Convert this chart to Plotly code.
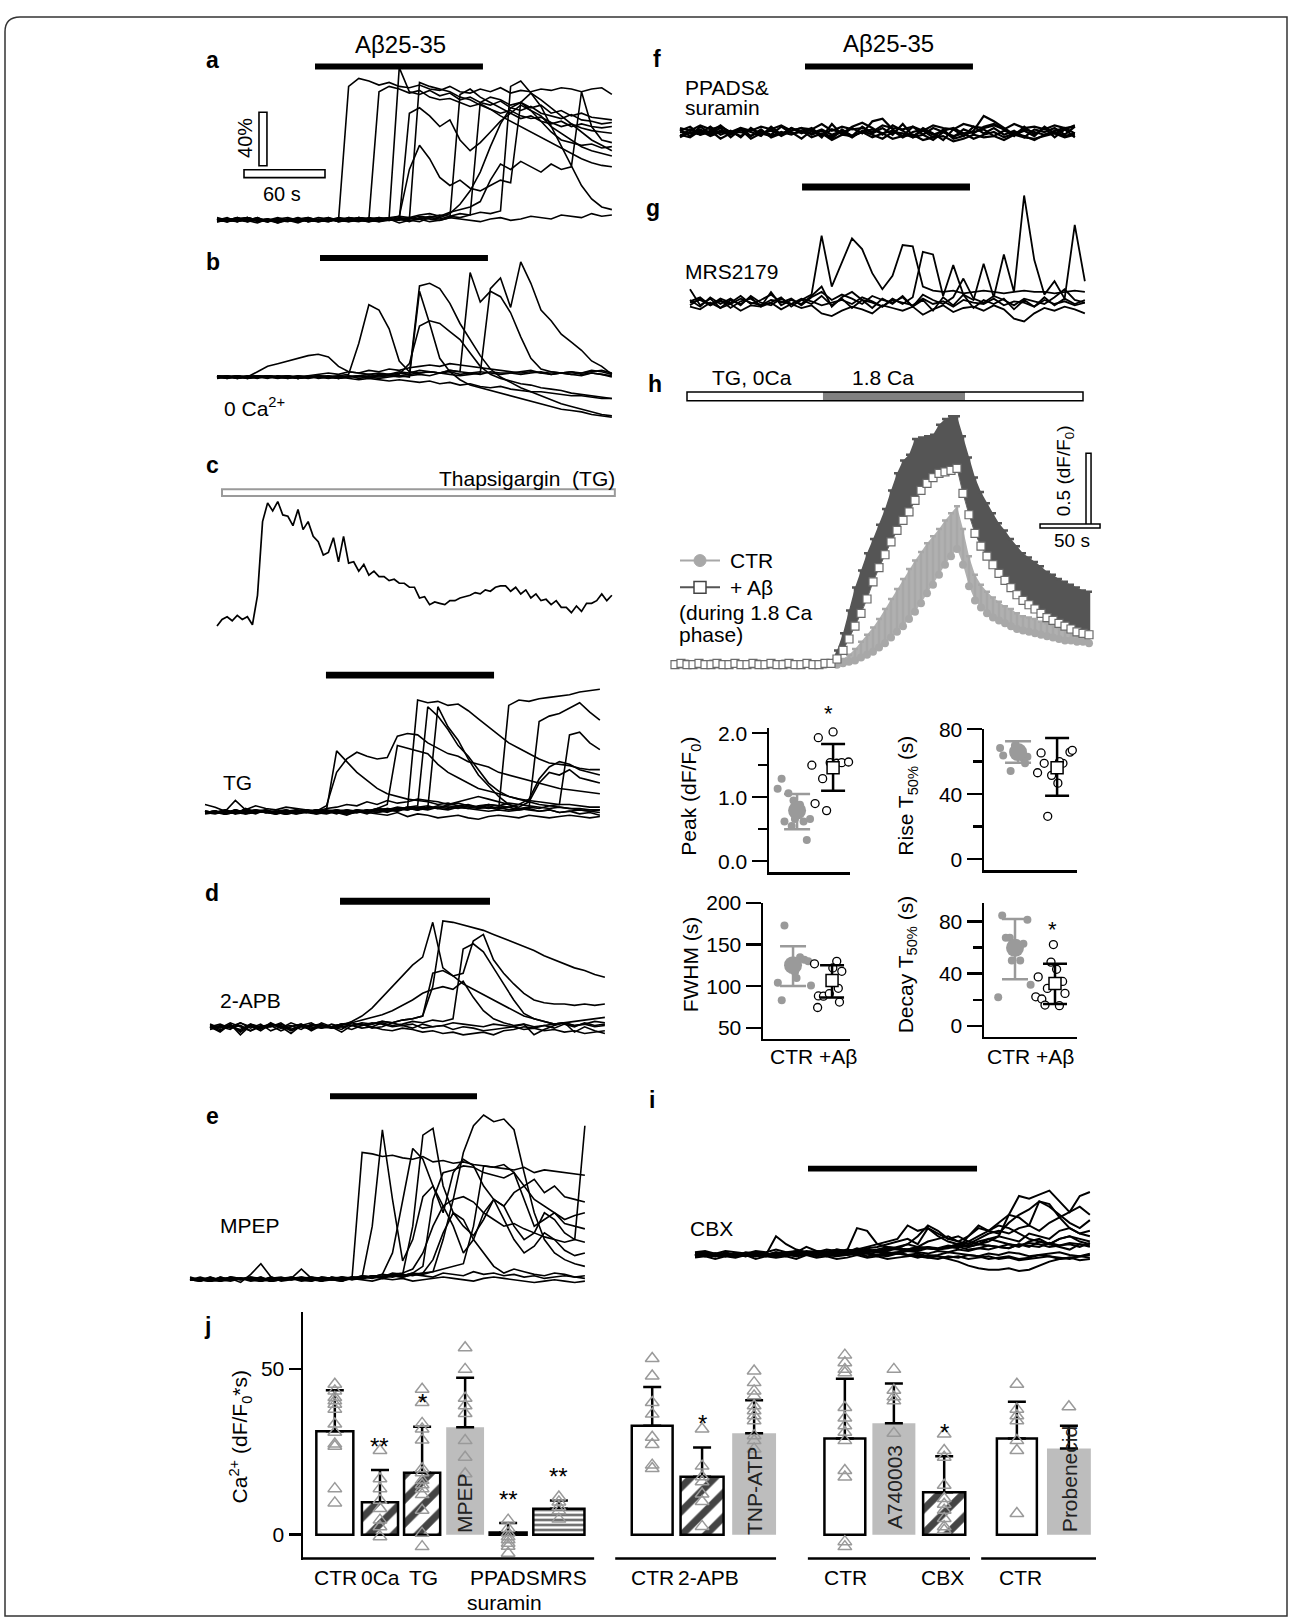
import plotly.graph_objects as go

W, H = 1290, 1620
FONT = "Liberation Sans, Arial, Helvetica, sans-serif"

# ======================= DATA =======================
# shared time grid (s) for the Ca2+ trace panels
T_GRID = [0, 7.5, 15, 22.5, 30, 37.5, 45, 52.5, 60, 67.5, 75, 82.5, 90, 97.5, 105, 112.5, 120, 127.5, 135, 142.5,
          150, 157.5, 165, 172.5, 180, 187.5, 195, 202.5, 210, 217.5, 225, 232.5, 240, 247.5, 255, 262.5, 270, 277.5, 285, 292.5]

# panel a (dF/F, %)
A_TRACES = [
    [1,-1,2,0,-2,1,0,-1,2,-1, 0,1,0,100,106,104,101,103,100,99, 101,98,97,100,96,95,98,96,99,95, 97,96,98,97,99,98,96,98,99,94],
    [0,1,-1,2,0,-1,1,0,-2,1, 0,-1,1,0,2,1,96,100,98,95, 97,92,90,91,88,85,87,83,80,82, 78,76,77,73,70,72,69,67,66,65],
    [-1,0,2,-1,1,0,-2,1,0,1, -1,0,2,1,0,-1,1,2,114,96, 94,97,93,95,90,92,88,86,89,84, 82,85,80,78,76,79,75,74,72,73],
    [0,-1,1,0,2,-1,0,1,-1,0, 2,1,0,-1,1,0,2,1,0,80, 84,78,70,75,60,52,58,66,74,80, 86,82,78,70,65,60,55,52,50,48],
    [2,0,-1,1,0,1,-2,0,1,0, -1,1,0,2,1,0,-1,1,0,1, 103,100,98,96,92,90,86,83,78,74, 70,66,62,58,54,50,46,43,41,40],
    [0,1,0,-1,1,0,2,0,-1,1, 0,1,-1,0,2,1,0,1,3,38, 56,46,32,26,30,24,22,26,30,28, 88,95,90,84,78,72,66,60,56,52],
    [1,-1,0,2,0,1,-1,0,1,2, 0,-1,1,0,-1,1,2,0,1,0, -1,2,1,3,2,4,88,92,90,86, 88,84,86,80,82,78,80,77,76,75],
    [-1,1,0,0,2,-1,1,0,1,-1, 0,2,0,1,0,-1,1,0,2,1, 3,2,4,3,5,4,6,5,7,100, 104,95,85,70,55,40,26,16,10,8],
    [0,2,-1,1,0,-1,1,2,0,1, -1,0,1,0,2,1,-1,0,1,2, 1,3,2,5,12,22,36,55,72,84, 88,82,74,66,60,58,56,57,54,55],
    [1,0,2,-1,0,1,-1,1,0,2, 0,1,-1,2,1,0,1,2,3,2, 4,5,3,6,8,10,14,30,42,38, 44,40,36,42,38,40,96,70,60,58],
    [0,-1,1,2,-1,0,1,0,-1,1, 0,2,-1,0,1,-1,0,1,-2,0, 1,-1,0,2,1,0,-1,1,2,0, 1,3,2,1,4,3,2,5,3,4],
    [-1,0,1,2,0,-1,1,0,2,-1, 1,0,1,-1,0,2,1,0,1,-1, 2,1,0,2,94,98,92,88,84,80, 76,78,74,72,74,70,72,70,69,70],
]
A_BAR = [72.6, 197.0]

# panel b
B_TRACES = [
    [0,1,-1,0,4,8,10,12,14,16, 17,15,8,4,3,2,3,2,4,3, 5,4,3,4,2,3,4,3,2,3, 4,5,3,2,3,4,3,5,4,2],
    [1,0,-1,1,0,1,0,-1,1,0, 1,0,1,2,25,54,50,36,12,4, 3,4,3,5,4,3,2,4,3,3, 2,3,4,2,3,2,1,3,2,0],
    [-1,0,1,0,-1,1,0,1,0,-1, 0,1,0,1,-1,0,1,2,1,2, 68,70,66,55,40,28,16,6,0,-4, -8,-11,-14,-17,-20,-22,-24,-26,-28,-29],
    [0,-1,0,1,0,-1,1,0,-1,0, 1,0,-1,0,1,0,-1,0,1,0, 64,40,14,4,-2,-6,-8,-10,-12,-14, -16,-18,-20,-22,-24,-25,-26,-28,-29,-30],
    [0,1,0,-1,1,0,0,1,-1,0, 1,0,-1,1,0,1,0,1,2,10, 38,42,40,34,28,18,8,2,-1,-3, -5,-6,-8,-9,-10,-12,-13,-14,-15,-16],
    [1,0,1,-1,0,1,0,-1,0,1, -1,0,1,0,1,2,1,2,3,2, 3,4,3,5,4,78,56,64,60,48, 30,14,6,4,3,4,2,3,2,1],
    [0,-1,1,0,1,0,-1,0,1,0, 0,1,-1,0,1,0,2,1,0,1, 2,1,3,2,1,2,3,66,74,52, 86,70,50,42,32,26,20,12,8,2],
    [1,0,1,-1,0,1,0,1,-1,0, 0,-1,0,-1,-2,-1,-2,-3,-2,-3, -4,-3,-5,-4,-6,-5,-7,-8,-7,-9, -10,-11,-11,-12,-13,-14,-14,-15,-16,-16],
    [0,1,-1,0,1,0,1,0,-1,1, 2,3,2,4,3,5,4,6,5,7, 8,9,8,10,9,8,7,6,5,4, 3,4,3,4,3,2,3,4,5,3],
]
B_BAR = [76.3, 200.7]

# panel c (thapsigargin alone)
C_TIME = [0, 3.75, 7.5, 11.25, 15, 18.75, 22.5, 26.25, 30, 33.75, 37.5, 41.25, 45, 48.75, 52.5, 56.25, 60, 63.75,
          67.5, 71.25, 75, 78.75, 82.5, 86.25, 90, 93.75, 97.5, 101.25, 105, 108.75, 112.5, 116.25, 120, 123.75,
          127.5, 131.25, 135, 138.75, 142.5, 146.25, 150, 153.75, 157.5, 161.25, 165, 168.75, 172.5, 176.25, 180,
          183.75, 187.5, 191.25, 195, 198.75, 202.5, 206.25, 210, 213.75, 217.5, 221.25, 225, 228.75, 232.5,
          236.25, 240, 243.75, 247.5, 251.25, 255, 258.75, 262.5, 266.25, 270, 273.75, 277.5, 281.25, 285, 288.75, 292.5]
C_TRACE = [-3,2,4,1,5,2,4,-2,20,75, 89,83,90,80,79,72,84,69,75,64, 60,50,52,63,45,64,44,45,38,43,
           35,38,34,34,31,32,29,29,26,26, 18,19,13,15,14,13,16,16,18,19, 20,22,21,24,23,26,27,27,23,26,
           21,24,18,21,16,17,13,16,11,11, 7,12,8,14,14,16,21,16,20]
C_TG_BAR = [3.7, 294.7]

# panel c lower (TG + Abeta)
TG_TRACES = [
    [1,0,2,-1,3,0,1,-1,2,0, 1,0,2,46,38,30,24,18,14,12, 10,9,8,6,7,5,6,4,5,3, 4,2,3,1,2,0,1,-1,0,-2],
    [0,1,-1,2,0,1,0,-1,1,2, 0,1,5,30,40,45,42,40,41,57, 59,58,52,48,44,42,38,36,34,30, 28,26,24,22,20,18,17,16,15,14],
    [1,0,-1,0,2,1,0,-1,1,0, 2,0,1,-1,2,1,0,3,2,4, 3,84,82,83,80,81,76,70,64,58, 52,48,44,40,37,36,35,33,32,32],
    [0,1,0,2,-1,0,1,0,-1,2, 1,0,-1,1,0,2,1,3,2,1, 4,5,79,72,62,50,42,32,22,16, 12,10,8,6,5,4,3,3,2,2],
    [-1,0,1,0,1,2,0,1,0,-1, 1,0,2,1,-1,0,1,2,0,3, 2,4,3,79,64,54,40,28,20,12, 6,3,2,1,2,0,1,2,1,0],
    [0,1,-1,0,2,1,0,1,-1,0, 2,1,0,1,2,0,1,3,6,50, 48,46,44,36,30,26,22,18,16,14, 12,10,9,8,7,6,6,5,4,4],
    [1,0,2,0,-1,1,0,1,2,0, 1,-1,0,2,1,0,1,2,3,2, 4,3,2,4,3,5,4,3,4,2, 80,84,83,85,86,87,88,90,91,92],
    [0,1,-1,1,0,2,1,0,-1,0, 1,2,0,1,0,2,1,0,2,1, 3,2,4,3,2,4,3,2,1,2, 1,2,3,68,72,74,78,82,75,69],
    [1,0,1,-1,0,1,2,0,1,-1, 0,2,1,0,1,0,2,1,3,2, 4,2,3,5,4,3,5,4,3,4, 2,3,4,3,5,6,58,60,52,47],
    [0,-1,1,0,2,0,1,-1,0,1, 0,2,1,0,-1,1,2,0,1,2, 3,2,4,3,5,4,3,5,6,5, 4,6,10,25,34,38,36,32,30,28],
    [1,0,-1,2,0,1,0,1,-1,0, 2,0,1,2,0,1,-1,2,1,3, 2,4,5,3,6,8,10,12,10,8, 6,4,8,22,30,28,32,26,24,22],
    [0,1,-1,0,1,-1,2,0,-1,1, 0,-1,1,0,-2,1,0,-1,-2,0, -3,-1,-2,-4,-3,-2,-4,-5,-3,-2, -3,-4,-2,-3,-4,-3,-2,-3,-4,-3],
    [6,4,1,9,2,5,3,2,4,3, 2,1,3,4,6,5,8,6,9,7, 8,10,9,8,6,7,5,4,6,5, 7,6,5,4,3,4,3,2,1,2],
]
TG_BAR = [89.6, 214.1]

# panel d (2-APB)
D_TRACES = [
    [0,-3,2,-4,1,-2,3,-1,0,2, -3,1,0,-2,3,1,2,4,3,5, 6,8,30,79,78,76,74,72,69,66, 63,60,57,53,50,47,44,42,39,37],
    [1,-2,0,3,-1,2,-3,0,1,-2, 2,0,-1,1,4,8,14,22,30,38, 46,52,78,44,38,32,28,24,20,16, 12,8,6,4,2,3,1,2,0,1],
    [0,2,-1,1,-3,0,2,-1,3,0, -2,1,0,2,1,3,2,4,3,5, 6,8,40,42,38,40,64,69,50,40, 32,25,20,18,17,17,16,17,16,17],
    [-1,1,0,-2,2,0,1,-3,0,2, -1,1,0,2,3,5,7,9,12,16, 20,25,28,30,28,34,22,12,6,3, 1,2,0,1,-1,2,0,3,1,2],
    [1,0,-2,3,0,-1,2,1,-3,0, 1,2,-1,0,1,2,0,3,1,2, 4,3,5,4,6,58,62,56,44,32, 20,10,6,4,2,3,1,2,4,3],
    [0,-4,2,-6,1,-3,2,0,-5,1, -2,3,0,-4,1,2,-1,0,3,1, 2,-1,0,1,-2,0,-1,-3,-2,-1, 0,2,-6,-2,1,3,-4,0,-3,-5],
    [2,-1,3,0,-3,1,0,2,-2,1, 3,-1,0,2,1,-1,0,-2,-3,-1, -2,-4,-3,-5,-4,-6,-5,-4,-6,-3, -2,0,-1,1,2,3,4,5,6,7],
    [-2,0,1,-3,2,-1,0,3,-2,1, 0,-1,2,0,-2,1,3,2,0,1, -1,2,0,1,3,2,1,0,2,1, 0,-2,-1,-3,-2,-4,-3,-5,-4,-3],
]
D_BAR = [96.3, 207.4]

# panel e (MPEP)
E_TRACES = [
    [0,1,-1,2,0,1,-1,0,2,-1, 0,1,0,2,1,0,1,95,94,92, 93,91,90,92,88,89,87,88,86,85, 84,83,82,84,80,82,81,80,79,78],
    [1,0,-1,0,2,1,0,-1,1,0, 2,0,-1,1,0,2,1,2,40,112, 60,14,30,62,70,55,40,20,30,50, 60,45,30,20,25,35,30,22,18,20],
    [0,-1,1,0,2,0,1,-1,0,1, 2,0,1,-1,0,1,2,1,3,2, 5,4,40,108,113,70,50,40,33,45, 60,55,40,30,35,50,45,35,30,28],
    [1,0,2,-1,0,1,0,2,-1,1, 0,1,2,0,1,-1,2,1,3,2, 4,3,5,4,6,30,60,95,115,123, 118,120,112,80,50,30,20,15,12,10],
    [0,1,0,-1,2,1,0,1,-1,0, 1,2,0,1,0,-1,2,1,2,4, 20,60,98,90,70,50,80,90,85,70, 60,55,65,70,60,55,50,45,48,50],
    [2,0,-1,1,0,1,2,0,-1,1, 0,2,1,0,1,2,0,1,3,2, 4,3,5,10,60,80,82,85,84,80, 78,76,80,60,40,45,50,42,40,38],
    [0,1,-1,0,1,0,2,1,-1,0, 1,0,-1,2,1,0,2,1,3,2, 4,5,8,20,40,55,60,62,58,50, 45,40,42,38,35,32,30,28,30,115],
    [1,-1,2,0,1,-2,4,12,2,0, 1,8,1,-1,2,0,1,3,2,1, 3,2,4,3,2,5,4,3,6,4, 5,3,4,2,3,1,2,3,2,1],
    [0,2,0,-1,1,0,1,-1,2,0, 1,0,2,1,0,2,1,3,2,4, 3,2,4,5,15,35,50,45,30,20, 10,5,8,6,4,3,5,4,2,3],
    [1,0,-1,2,0,1,0,-1,1,2, 0,1,0,-1,2,1,0,2,1,3, 2,4,3,5,6,8,10,12,40,85, 84,86,80,70,75,65,70,62,60,58],
    [0,-1,1,0,-1,1,0,2,-1,0, 1,-1,0,1,0,-1,1,0,-1,1, 0,1,-1,0,1,2,1,0,-1,1, 2,1,0,-1,-2,-1,0,-1,-2,-1],
]
E_BAR = [103.7, 212.6]

# panel f (PPADS & suramin)
F_TRACES = [
    [2,-3,4,-1,3,-4,2,0,-3,4, -2,3,-1,2,-4,6,-2,3,-1,8, 10,2,-3,4,-2,3,0,-4,2,-1, 4,6,2,-3,4,-2,3,-4,2,5],
    [-3,2,-1,4,-2,1,-4,3,-2,2, -3,1,3,-2,1,-5,2,-3,4,-1, 3,-2,6,-3,1,-4,2,-5,-3,1, 12,8,3,-2,1,-3,4,-1,2,-4],
    [1,4,-2,0,5,-1,3,-3,1,-2, 4,-1,0,3,-3,2,-1,4,7,3, -2,5,1,-4,3,-1,-6,2,-3,4, -1,3,-2,1,-4,2,0,3,-2,4],
    [-2,-4,1,-3,0,-2,2,-5,-1,-3, 0,-2,1,-4,-1,-6,-2,-3,0,-4, -1,-5,-3,-2,-6,-4,-3,-7,-5,-2, -4,-3,-6,-2,-4,-5,-3,-1,-4,-2],
    [3,1,5,2,4,0,3,1,4,2, 5,1,3,2,6,1,4,2,3,0, 5,3,2,4,1,5,3,2,6,4, 3,5,2,6,3,4,2,5,3,4],
    [0,-1,2,-2,1,0,-3,2,-1,1, -2,3,0,-1,2,-2,1,-3,0,2, -1,1,-4,0,2,-2,1,3,-1,0, 2,-3,1,-1,2,0,-2,1,3,-1],
    [-4,0,-2,1,-5,-1,0,-3,2,-4, -1,0,-5,1,-2,-3,0,-4,1,-2, -5,0,-1,-4,-2,-6,0,-3,-1,-5, -2,0,-4,-1,-3,-6,-2,0,-3,-1],
]
F_BAR = [92.6, 217.0]

# panel g (MRS2179)
G_TRACES = [
    [2,-3,4,-1,3,-2,5,0,-2,3, -1,2,6,50,12,30,48,40,22,10, 20,43,42,12,9,8,9,7,8,9, 8,7,8,9,8,8,7,8,9,8],
    [-2,3,-1,2,-4,1,3,-2,0,4, -3,2,-1,5,-2,3,-4,2,0,-3, 3,-1,4,38,36,5,28,6,2,29, 4,36,8,80,32,6,16,3,58,16],
    [10,-2,3,-4,2,-1,4,-3,8,-2, 2,-1,5,12,-3,4,8,2,-4,3, -1,5,-3,2,-6,4,-2,6,-4,2, -1,3,-5,2,-3,4,-2,3,-1,2],
    [-3,-5,0,-4,-1,-6,-2,-3,0,-5, -1,-4,-2,-8,-10,-6,-3,-5,-8,-2, -4,-6,-3,-9,-5,-2,-7,-4,-3,-6, -2,-5,-12,-14,-8,-4,-6,-3,-5,-8],
    [1,4,-2,3,0,5,-1,2,6,0, 3,-2,4,8,2,6,3,-1,5,2, 0,4,-3,6,2,-1,4,18,3,0, 5,2,-2,3,1,-1,4,10,2,0],
    [0,2,-2,1,-1,3,0,-2,2,1, -1,3,1,-2,0,2,-1,4,1,-3, 2,0,-2,3,-1,1,-3,2,0,-1, 3,-2,1,0,-3,2,-1,1,-2,0],
]
G_BAR = [83.0, 207.4]

# panel i (CBX)
I_TRACES = [
    [1,0,-1,2,0,1,-1,0,14,8, 4,2,3,2,4,3,20,18,8,6, 5,4,6,5,4,6,8,10,14,18, 22,20,16,12,10,8,12,14,10,8],
    [0,1,0,-1,1,0,2,1,0,1, 2,6,3,2,1,3,4,6,8,10, 12,22,18,20,14,10,8,6,8,10, 14,30,44,42,45,48,40,32,44,47],
    [-1,0,1,0,-1,1,0,1,-1,0, 1,2,1,3,2,4,3,5,6,8, 10,12,8,20,16,12,10,14,22,18, 16,24,30,34,40,36,30,24,20,26],
    [1,-1,0,1,0,-1,1,0,2,0, 1,0,2,1,3,2,1,3,2,4, 6,8,6,10,12,14,10,8,12,16, 18,16,20,22,18,24,28,32,36,30],
    [0,1,-1,0,1,0,-1,1,0,2, 0,1,-1,0,1,2,0,1,-1,0, 1,0,-1,-2,-1,-3,-5,-8,-10,-11, -11,-10,-12,-11,-8,-5,-3,-2,-1,0],
    [-1,0,0,1,-1,0,1,0,-1,1, 0,1,2,1,3,2,4,3,2,4, 5,4,6,5,4,6,8,7,10,12, 14,12,10,16,14,12,18,20,16,18],
    [0,-1,1,0,1,-1,0,1,0,-1, 1,0,1,-1,0,1,2,1,0,2, 1,3,2,1,3,2,4,3,5,4, 6,5,8,6,10,8,12,14,12,10],
    [1,0,1,-1,0,1,0,-1,1,0, -1,1,0,2,1,0,1,-1,0,1, 2,0,1,-1,0,2,1,0,-1,1, 0,2,1,-1,0,1,2,0,-1,1],
    [0,0,-1,1,0,-1,1,0,0,1, -1,0,1,0,-1,0,1,2,0,-1, 1,0,-2,0,-1,-2,-1,-3,-2,-1, -3,-2,-4,-3,-2,-1,-3,-2,-4,-3],
    [-1,1,0,-1,0,1,-1,0,1,0, 1,3,2,1,2,3,1,4,2,3, 5,8,14,22,18,12,14,10,8,12, 10,8,6,10,12,8,6,4,8,6],
    [0,1,-1,0,1,0,1,-1,0,1, 0,1,2,1,0,2,1,3,2,1, 2,4,3,5,4,6,5,14,20,18, 24,30,28,22,40,38,28,20,16,14],
    [1,2,0,1,-1,2,1,0,2,1, 3,2,1,2,4,3,2,4,3,5, 4,3,5,6,4,5,7,6,8,7, 6,8,7,9,8,6,7,9,8,7],
    [-2,-1,-3,-1,-2,0,-3,-1,-2,-1, -3,0,-2,-1,-3,-2,0,-2,-1,-3, -2,-1,0,-2,-3,-1,-2,0,-1,-3, -2,-1,-3,-2,0,-1,-2,-3,-1,-2],
    [2,3,1,3,2,1,3,2,4,2, 3,1,2,4,3,2,5,3,4,6, 5,3,4,6,5,7,6,4,5,7, 6,5,8,7,6,9,7,8,6,9],
]
I_BAR = [83.7, 208.9]

# panel h (mean + error, dF/F0)
H_T = [0,5,10,15,20,25,30,35,40,45,50,55,60,65,70,75,80,85,90,95,100,105,110,115,120,125,130,135,140,145,
       150,155,160,165,170,175,180,185,190,195,200,205,210,215,220,225,230,235,240,245,250,255,260,265,270,
       275,280,285,290,295,300,305,310,315,320,325,330,335,340,345]
H_AB_MEAN = [0.0,0.01,0.0,0.0,0.01,0.0,0.0,0.01,0.0,0.0,0.01,0.0,0.0,0.01,0.0,0.0,0.01,0.0,0.0,0.01,0.0,0.0,0.01,0.0,0.0,0.01,0.01,
             0.04,0.10,0.18,0.27,0.36,0.46,0.58,0.68,0.77,0.86,0.94,1.01,1.07,1.15,1.22,1.27,1.31,1.34,1.35,1.36,1.375,
             1.20,1.05,0.92,0.83,0.76,0.70,0.64,0.59,0.54,0.49,0.45,0.42,0.39,0.36,0.33,0.31,0.29,0.27,0.25,0.23,0.22,0.21]
H_AB_ERR = [0.01,0.01,0.01,0.01,0.01,0.01,0.01,0.01,0.01,0.01,0.01,0.01,0.01,0.01,0.01,0.01,0.01,0.01,0.01,0.01,0.01,0.01,0.01,0.01,0.01,0.01,0.01,
            0.06,0.12,0.20,0.27,0.30,0.32,0.30,0.30,0.32,0.36,0.40,0.42,0.40,0.43,0.37,0.33,0.30,0.34,0.37,0.38,0.365,
            0.40,0.40,0.39,0.38,0.37,0.36,0.35,0.35,0.34,0.34,0.33,0.33,0.33,0.33,0.32,0.32,0.31,0.31,0.31,0.31,0.30,0.30]
H_CTR_MEAN = [0.0,0.0,0.01,0.0,0.0,0.0,0.01,0.0,0.0,0.0,0.01,0.0,0.0,0.0,0.01,0.0,0.0,0.0,0.01,0.0,0.0,0.0,0.01,0.0,0.0,0.0,0.01,0.0,
              0.01,0.02,0.03,0.05,0.07,0.09,0.12,0.15,0.19,0.23,0.27,0.32,0.37,0.43,0.50,0.56,0.63,0.70,0.76,0.81,
              0.70,0.55,0.45,0.40,0.36,0.33,0.31,0.29,0.27,0.25,0.24,0.23,0.22,0.21,0.20,0.19,0.18,0.17,0.17,0.16,0.16,0.15]
H_CTR_ERR = [0.01,0.01,0.01,0.01,0.01,0.01,0.01,0.01,0.01,0.01,0.01,0.01,0.01,0.01,0.01,0.01,0.01,0.01,0.01,0.01,0.01,0.01,0.01,0.01,0.01,0.01,0.01,0.01,
             0.03,0.05,0.08,0.11,0.14,0.17,0.20,0.24,0.27,0.30,0.33,0.35,0.36,0.36,0.35,0.34,0.32,0.31,0.30,0.30,
             0.25,0.21,0.18,0.16,0.15,0.14,0.13,0.12,0.12,0.11,0.10,0.10,0.10,0.09,0.09,0.09,0.08,0.08,0.08,0.08,0.08,0.08]
H_PHASES = [10, 123.3, 241.7, 340]

# panel h small plots: individual cells, jitter, and mean / error limits (CTR, +Abeta)
PEAK_CTR = [1.29,1.13,1.06,0.62,0.66,0.62,0.66,0.33,0.55,0.88,0.95]
PEAK_CTR_JIT = [-0.43,-0.54,-0.24,-0.35,-0.06,0.18,0.36,0.27,-0.15,0.08,-0.1]
PEAK_AB = [1.93,2.02,1.50,1.29,1.54,1.53,1.54,1.55,0.90,0.79]
PEAK_AB_JIT = [-0.41,0.0,-0.59,-0.29,-0.08,0.1,0.24,0.43,-0.5,-0.18]
PEAK_MEAN = [0.79, 1.46]; PEAK_LO = [0.50, 1.10]; PEAK_HI = [1.05, 1.83]

RISE_CTR = [80.7,68.4,63.8,54.3,63,59,66,70,62]
RISE_CTR_JIT = [-0.32,-0.46,-0.38,-0.19,0.24,0.18,0.05,-0.08,0.14]
RISE_AB = [65.4,59,53.2,51.6,59,65.9,67,46.8,26.4,60]
RISE_AB_JIT = [-0.41,-0.33,-0.5,-0.14,0.15,0.33,0.39,0.02,-0.24,0.06]
RISE_MEAN = [65.9, 56.3]; RISE_LO = [59.3, 39.0]; RISE_HI = [72.6, 74.6]

FWHM_CTR = [173.2,104.3,83.1,135,132,130,101,117,128,110]
FWHM_CTR_JIT = [-0.22,-0.39,-0.29,0.18,0.29,0.39,0.46,0.05,-0.08,0.09]
FWHM_AB = [127,130,118,88.3,88,91,97.5,74.4,81,122]
FWHM_AB_JIT = [-0.45,0.12,0.25,-0.35,-0.22,-0.07,0.16,-0.37,0.19,0.02]
FWHM_MEAN = [125.4, 107]; FWHM_LO = [100.2, 86.4]; FWHM_HI = [148, 125.4]

DECAY_CTR = [96.4,84.5,81.3,67.4,67.4,62.9,50.2,50.2,31.5,22,58]
DECAY_CTR_JIT = [0.07,-0.32,0.31,-0.23,-0.13,0.21,0.13,-0.08,0.39,-0.42,0]
DECAY_AB = [62.3,48.9,43.4,37.6,34.1,28.8,22.4,20.7,16.1,15.6,25]
DECAY_AB_JIT = [-0.04,-0.1,0.04,-0.42,0.19,-0.19,-0.48,-0.33,-0.25,0.11,0.25]
DECAY_MEAN = [59.8, 32.6]; DECAY_LO = [35.8, 16.9]; DECAY_HI = [81.8, 47.7]

# panel j: integrated Ca2+ (dF/F0*s)
J_CATS = ["CTR", "0Ca", "TG", "MPEP", "PPADS suramin", "MRS", "CTR", "2-APB", "TNP-ATP",
          "CTR", "A740003", "CBX", "CTR", "Probenecid"]
J_MEAN = [31.2, 9.8, 18.7, 32.4, 0.7, 7.8, 32.9, 17.5, 30.6, 29.0, 33.6, 12.8, 29.0, 26.0]
J_ERR = [12.4, 9.7, 13.9, 15.0, 2.8, 2.5, 11.7, 8.8, 10.0, 18.1, 12.0, 10.9, 11.1, 6.9]
J_PTS = [
    [45.4,43.4,41.4,40.4,39.4,37.9,33.4,30.9,27.4,26.7,13.9,9.6],
    [25.4,16.9,13.9,10.4,7.9,4.4,2.4,-0.6],
    [43.9,39.9,33.6,31.9,28.6,19.9,18.7,16.4,15.1,13.9,12.1,7.4,0.4,-3.6],
    [56.4,49.9,41.2,38.9,36.6,28.4,23.4,18.4],
    [4.4,1.9,-0.6,-2.6,-5.6,-1.5,0.5,-3.5],
    [11.4,9.9,8.4,7.2,4.7],
    [53.2,47.9,39.9,36.4,29.4,27.2,21,20],
    [31.9,20.7,17.5,16,12.3,10,2.5],
    [49.4,45.9,43.4,41.9,38.9,37.4,35.9,34.4,29.9,28.4,25.9],
    [54.2,51.9,49.9,48.9,38.4,35.2,32.9,30.9,28.4,19.4,17.4,-2.1,-3.6],
    [49.9,43.6,41.6,40.4,30.6],
    [30.4,25.4,23.4,14.9,10.9,9.2,7.4,4.9,2.4,1.4],
    [45.4,37.9,35.9,34.4,28.4,25.4,6.4],
    [38.6],
]
J_SIG = ["", "**", "*", "", "**", "**", "", "*", "", "", "", "*", "", ""]

# ======================= LAYOUT HELPERS =======================
# bar positions / widths of panel j (layout, in axis units)
J_X = [0.74, 1.79, 2.77, 3.77, 4.77, 5.95, 8.12, 9.28, 10.49, 12.60, 13.74, 14.91, 16.60, 17.81]
J_W = [0.86, 0.84, 0.84, 0.88, 0.86, 1.19, 0.95, 1.0, 1.02, 0.95, 1.0, 0.98, 0.93, 1.02]
J_STYLE = ["open", "hatch", "hatch", "gray", "open", "stripe", "open", "hatch", "gray",
           "open", "gray", "hatch", "open", "gray"]

fig = go.Figure()
AX = {}
SHAPES = []
ANN = []
_n = [0]


def px_x(p):
    return p / W


def px_y(p):
    return 1 - p / H


def new_axes(bx0, bx1, by0, by1, xr, yr):
    _n[0] += 1
    s = '' if _n[0] == 1 else str(_n[0])
    AX['xaxis' + s] = dict(domain=[bx0 / W, bx1 / W], range=xr, anchor='y' + s, visible=False,
                           fixedrange=True, showgrid=False, zeroline=False)
    AX['yaxis' + s] = dict(domain=[1 - by1 / H, 1 - by0 / H], range=yr, anchor='x' + s, visible=False,
                           fixedrange=True, showgrid=False, zeroline=False)
    return 'x' + s, 'y' + s, 'xaxis' + s, 'yaxis' + s


def ann(px, py, text, size=21, xanchor='center', yanchor='middle', bold=False, angle=0, color='black'):
    if bold:
        text = '<b>' + text + '</b>'
    ANN.append(dict(x=px_x(px), y=px_y(py), xref='paper', yref='paper', text=text, showarrow=False,
                    xanchor=xanchor, yanchor=yanchor, textangle=angle,
                    font=dict(size=size, color=color, family=FONT)))


def stim_bar(xref, t, py0, py1, fill='black', line='black', lw=0):
    SHAPES.append(dict(type='rect', xref=xref, yref='paper', x0=t[0], x1=t[1],
                       y0=px_y(py1), y1=px_y(py0), fillcolor=fill, line=dict(color=line, width=lw), layer='above'))


def trace_panel(x0, base, box, traces, times, sx=1.35, sy=1.35, lw=1.6):
    bx0, bx1, by0, by1 = box
    xr = [(bx0 - x0) / sx, (bx1 - x0) / sx]
    yr = [(base - by1) / sy, (base - by0) / sy]
    xref, yref, _, _ = new_axes(bx0, bx1, by0, by1, xr, yr)
    for tr in traces:
        fig.add_trace(go.Scatter(x=times, y=tr, mode='lines', line=dict(color='black', width=lw),
                                 xaxis=xref, yaxis=yref, hoverinfo='skip', showlegend=False))
    return xref, yref


# ======================= TRACE PANELS =======================
ax_a = trace_panel(217, 210, (212, 620, 48, 222), A_TRACES, T_GRID)
stim_bar(ax_a[0], A_BAR, 52, 58)
# scale bars (60 s, 40 %)
SHAPES.append(dict(type='rect', xref=ax_a[0], yref=ax_a[1], x0=31.1, x1=37.0, y0=40.7, y1=80.7,
                   fillcolor='white', line=dict(color='black', width=1.6)))
SHAPES.append(dict(type='rect', xref=ax_a[0], yref=ax_a[1], x0=20, x1=80, y0=31.9, y1=37.8,
                   fillcolor='white', line=dict(color='black', width=1.6)))

ax_b = trace_panel(217, 368, (212, 622, 240, 415), B_TRACES, T_GRID)
stim_bar(ax_b[0], B_BAR, 245, 251)

ax_c = trace_panel(217, 615, (212, 625, 476, 630), [C_TRACE], C_TIME, lw=1.7)
stim_bar(ax_c[0], C_TG_BAR, 481, 488, fill='white', line='#9a9a9a', lw=2)

ax_tg = trace_panel(205, 807, (200, 612, 660, 822), TG_TRACES, T_GRID)
stim_bar(ax_tg[0], TG_BAR, 665, 672)

ax_d = trace_panel(210, 1023, (205, 612, 888, 1035), D_TRACES, T_GRID)
stim_bar(ax_d[0], D_BAR, 893, 900)

ax_e = trace_panel(190, 1278, (185, 600, 1085, 1292), E_TRACES, T_GRID)
stim_bar(ax_e[0], E_BAR, 1090, 1096)

ax_f = trace_panel(680, 121, (675, 1090, 48, 135), F_TRACES, T_GRID, lw=2.2)
stim_bar(ax_f[0], F_BAR, 52, 58)

ax_g = trace_panel(690, 293, (685, 1100, 168, 315), G_TRACES, T_GRID, lw=1.8)
stim_bar(ax_g[0], G_BAR, 173, 180)

ax_i = trace_panel(695, 1253, (690, 1100, 1158, 1275), I_TRACES, T_GRID, lw=2.0)
stim_bar(ax_i[0], I_BAR, 1163, 1169)

# ======================= PANEL h =======================
hx, hy, _, _ = new_axes(670, 1102, 378, 668, [(670 - 675) / 1.2, (1102 - 675) / 1.2],
                        [(658 - 668) / 144, (658 - 378) / 144])
ab_up = [m + e for m, e in zip(H_AB_MEAN, H_AB_ERR)]
ctr_up = [m + e for m, e in zip(H_CTR_MEAN, H_CTR_ERR)]
NZ = [0] * len(H_T)
fig.add_trace(go.Scatter(x=H_T + H_T[::-1], y=ab_up + H_AB_MEAN[::-1], fill='toself', fillcolor='#555555',
                         line=dict(width=0), mode='lines', xaxis=hx, yaxis=hy, hoverinfo='skip', showlegend=False))
fig.add_trace(go.Scatter(x=H_T, y=H_AB_MEAN, mode='markers', marker=dict(size=2, color='#555555'),
                         error_y=dict(type='data', symmetric=False, array=H_AB_ERR, arrayminus=NZ,
                                      color='#555555', thickness=2.5, width=3),
                         xaxis=hx, yaxis=hy, hoverinfo='skip', showlegend=False))
fig.add_trace(go.Scatter(x=H_T + H_T[::-1], y=ctr_up + H_CTR_MEAN[::-1], fill='toself', fillcolor='#b0b0b0',
                         line=dict(width=0), mode='lines', xaxis=hx, yaxis=hy, hoverinfo='skip', showlegend=False))
fig.add_trace(go.Scatter(x=H_T, y=H_CTR_MEAN, mode='markers', marker=dict(size=8, color='#a8a8a8'),
                         error_y=dict(type='data', symmetric=False, array=H_CTR_ERR, arrayminus=NZ,
                                      color='#a8a8a8', thickness=2.5, width=3),
                         xaxis=hx, yaxis=hy, hoverinfo='skip', showlegend=False))
fig.add_trace(go.Scatter(x=H_T, y=H_AB_MEAN, mode='lines+markers', line=dict(color='#666666', width=1),
                         marker=dict(symbol='square', size=8, color='white', line=dict(color='#6a6a6a', width=1.2)),
                         xaxis=hx, yaxis=hy, hoverinfo='skip', showlegend=False))
# solution bar
for k, fill in enumerate(['white', '#808080', 'white']):
    SHAPES.append(dict(type='rect', xref=hx, yref='paper', x0=H_PHASES[k], x1=H_PHASES[k + 1],
                       y0=px_y(392), y1=px_y(383), fillcolor=fill, line=dict(width=0), layer='above'))
SHAPES.append(dict(type='rect', xref=hx, yref='paper', x0=H_PHASES[0], x1=H_PHASES[3],
                   y0=px_y(392), y1=px_y(383), fillcolor='rgba(0,0,0,0)', line=dict(color='black', width=1.5),
                   layer='above'))
# scale bars 50 s / 0.5 dF/F0
SHAPES.append(dict(type='rect', xref=hx, yref=hy, x0=342.5, x1=346.7, y0=0.98, y1=1.48,
                   fillcolor='white', line=dict(color='black', width=1.5)))
SHAPES.append(dict(type='rect', xref=hx, yref=hy, x0=304.2, x1=354.2, y0=0.958, y1=0.986,
                   fillcolor='white', line=dict(color='black', width=1.5)))
# legend glyphs
SHAPES.append(dict(type='line', xref='paper', yref='paper', x0=px_x(680), x1=px_x(720), y0=px_y(553), y1=px_y(553),
                   line=dict(color='#a8a8a8', width=2)))
SHAPES.append(dict(type='circle', xref='paper', yref='paper', x0=px_x(694), x1=px_x(706), y0=px_y(559), y1=px_y(547),
                   fillcolor='#a8a8a8', line=dict(color='#a8a8a8', width=1)))
SHAPES.append(dict(type='line', xref='paper', yref='paper', x0=px_x(680), x1=px_x(720), y0=px_y(580), y1=px_y(580),
                   line=dict(color='#555555', width=2)))
SHAPES.append(dict(type='rect', xref='paper', yref='paper', x0=px_x(694), x1=px_x(706), y0=px_y(586), y1=px_y(574),
                   fillcolor='white', line=dict(color='#444444', width=1.5)))


# ======================= SMALL SCATTER PLOTS =======================
def small_plot(box, xr, yr, tickvals, ticktext, minor, ctr, cjit, ab, ajit, mean, lo, hi):
    xref, yref, xn, yn = new_axes(*box, xr, yr)
    AX[xn].update(visible=True, showline=True, linewidth=2.5, linecolor='black', ticks='',
                  showticklabels=False)
    AX[yn].update(visible=True, showline=True, linewidth=2.5, linecolor='black', ticks='outside',
                  ticklen=15, tickwidth=2.5, tickcolor='black', tickmode='array', tickvals=tickvals,
                  ticktext=ticktext, tickfont=dict(size=21, family=FONT, color='black'))
    if minor:
        AX[yn]['minor'] = dict(tickmode='array', tickvals=minor, ticks='outside', ticklen=9,
                               tickwidth=2.5, tickcolor='black', showgrid=False)
    fig.add_trace(go.Scatter(x=[1 + j for j in cjit], y=ctr, mode='markers',
                             marker=dict(size=8, color='#9a9a9a'), cliponaxis=False,
                             xaxis=xref, yaxis=yref, hoverinfo='skip', showlegend=False))
    fig.add_trace(go.Scatter(x=[2 + j for j in ajit], y=ab, mode='markers',
                             marker=dict(size=8, color='white', line=dict(color='black', width=1.3)),
                             cliponaxis=False, xaxis=xref, yaxis=yref, hoverinfo='skip', showlegend=False))
    fig.add_trace(go.Scatter(x=[1], y=[mean[0]], mode='markers', marker=dict(size=18, color='#9a9a9a'),
                             error_y=dict(type='data', symmetric=False, array=[hi[0] - mean[0]],
                                          arrayminus=[mean[0] - lo[0]], color='#9a9a9a', thickness=2.5, width=13),
                             cliponaxis=False, xaxis=xref, yaxis=yref, hoverinfo='skip', showlegend=False))
    fig.add_trace(go.Scatter(x=[2], y=[mean[1]], mode='markers',
                             marker=dict(size=12, symbol='square', color='white', line=dict(color='black', width=1.5)),
                             error_y=dict(type='data', symmetric=False, array=[hi[1] - mean[1]],
                                          arrayminus=[mean[1] - lo[1]], color='black', thickness=2.5, width=12),
                             cliponaxis=False, xaxis=xref, yaxis=yref, hoverinfo='skip', showlegend=False))


small_plot((769, 850, 722, 867), [0.22, 2.47], [-0.17, 2.078], [0, 1, 2], ['0.0', '1.0', '2.0'], [0.5, 1.5],
           PEAK_CTR, PEAK_CTR_JIT, PEAK_AB, PEAK_AB_JIT, PEAK_MEAN, PEAK_LO, PEAK_HI)
small_plot((984, 1077, 723, 865), [0.128, 2.51], [-6.7, 80], [0, 40, 80], ['0', '40', '80'], [20, 60],
           RISE_CTR, RISE_CTR_JIT, RISE_AB, RISE_AB_JIT, RISE_MEAN, RISE_LO, RISE_HI)
small_plot((763, 850, 898, 1035), [0.23, 2.46], [36.9, 200.4], [50, 100, 150, 200], ['50', '100', '150', '200'], None,
           FWHM_CTR, FWHM_CTR_JIT, FWHM_AB, FWHM_AB_JIT, FWHM_MEAN, FWHM_LO, FWHM_HI)
small_plot((984, 1077, 898, 1033), [0.225, 2.55], [-8.1, 94.2], [0, 40, 80], ['0', '40', '80'], [20, 60],
           DECAY_CTR, DECAY_CTR_JIT, DECAY_AB, DECAY_AB_JIT, DECAY_MEAN, DECAY_LO, DECAY_HI)

# ======================= PANEL j =======================
jx, jy, jxn, jyn = new_axes(303, 1096, 1311, 1561, [0, 18.44], [-7.78, 67.07])
AX[jyn].update(visible=True, showline=True, linewidth=2.5, linecolor='black', ticks='outside', ticklen=12,
               tickwidth=2.5, tickcolor='black', tickmode='array', tickvals=[0, 50], ticktext=['0', '50'],
               tickfont=dict(size=21, family=FONT, color='black'))
GRAY = '#bdbdbd'
colors = [GRAY if s == 'gray' else 'white' for s in J_STYLE]
lcolors = [GRAY if s == 'gray' else 'black' for s in J_STYLE]
lwidths = [0 if s == 'gray' else 2.5 for s in J_STYLE]
pshape = ['/' if s == 'hatch' else ('-' if s == 'stripe' else '') for s in J_STYLE]
pfg = ['#8c8c8c' if s == 'stripe' else 'black' for s in J_STYLE]
psize = [5 if s == 'stripe' else 17 for s in J_STYLE]
psol = [0.4 if s == 'stripe' else 0.42 for s in J_STYLE]
fig.add_trace(go.Bar(x=J_X, y=J_MEAN, width=J_W, textposition='none',
                     marker=dict(color=colors, line=dict(color=lcolors, width=lwidths),
                                 pattern=dict(shape=pshape, fgcolor=pfg, bgcolor=colors, size=psize,
                                              solidity=psol, fgopacity=1)),
                     error_y=dict(type='data', symmetric=False, array=J_ERR, arrayminus=[0] * len(J_ERR),
                                  color='black', thickness=2.5, width=9),
                     xaxis=jx, yaxis=jy, hoverinfo='skip', showlegend=False))
tx, ty = [], []
for xpos, pts in zip(J_X, J_PTS):
    tx += [xpos] * len(pts)
    ty += pts
fig.add_trace(go.Scatter(x=tx, y=ty, mode='markers', cliponaxis=False,
                         marker=dict(symbol='triangle-up-open', size=12, color='#9a9a9a', line=dict(width=1.5)),
                         xaxis=jx, yaxis=jy, hoverinfo='skip', showlegend=False))
for xa, xb in [(0, 6.77), (7.26, 11.0), (11.74, 15.51), (15.77, 18.44)]:
    SHAPES.append(dict(type='line', xref=jx, yref='paper', x0=xa, x1=xb, y0=px_y(1559), y1=px_y(1559),
                       line=dict(color='black', width=2.5)))
# significance marks
for xpos, m, s in zip(J_X, [a + b for a, b in zip(J_MEAN, J_ERR)], J_SIG):
    if s:
        ANN.append(dict(x=xpos, y=m + 2.5, xref=jx, yref=jy, text=s, showarrow=False, yanchor='bottom',
                        font=dict(size=24, family=FONT, color='black')))

# ======================= FRAME =======================
fp = "M {a},{b} L {c},{b} L {c},{d} L {e},{d} L {e},{f} Q {e},{b} {a},{b} Z".format(
    a=px_x(20), b=px_y(5), c=px_x(1287), d=px_y(1617), e=px_x(5), f=px_y(20))
SHAPES.append(dict(type='path', xref='paper', yref='paper', path=fp, line=dict(color='#333333', width=1.5)))

# ======================= TEXT =======================
for lab, x, y in [('a', 212, 48), ('b', 213, 252), ('c', 212, 457), ('d', 212, 888), ('e', 212, 1113),
                  ('f', 657, 47), ('g', 653, 198), ('h', 655, 375), ('i', 652, 1097), ('j', 207, 1325)]:
    ann(x, y, lab, size=23, bold=True)
ann(400, 33, 'Aβ25-35', 24)
ann(888, 32, 'Aβ25-35', 24)
ann(245, 127, '40%', 20, angle=-90)
ann(282, 183, '60 s', 20)
ann(222, 398, '0 Ca<sup>2+</sup>', 21, xanchor='left')
ann(617, 470, 'Thapsigargin&nbsp; (TG)', 21, xanchor='right')
ann(237, 777, 'TG', 21)
ann(250, 997, '2-APB', 21)
ann(250, 1223, 'MPEP', 21)
ann(683, 76, 'PPADS&amp;', 21, xanchor='left')
ann(683, 96, 'suramin', 21, xanchor='left')
ann(683, 262, 'MRS2179', 21, xanchor='left')
ann(688, 1226, 'CBX', 21, xanchor='left')
ann(752, 368, 'TG, 0Ca', 21)
ann(883, 368, '1.8 Ca', 21)
ann(1065, 463, '0.5 (dF/F<sub>0</sub>)', 19, angle=-90)
ann(1072, 533, '50 s', 19)
ann(728, 553, 'CTR', 21, xanchor='left')
ann(728, 580, '+ Aβ', 21, xanchor='left')
ann(677, 605, '(during 1.8 Ca', 21, xanchor='left')
ann(677, 628, 'phase)', 21, xanchor='left')
ann(690, 790, 'Peak (dF/F<sub>0</sub>)', 21, angle=-90)
ann(907, 790, 'Rise T<sub>50%</sub> (s)', 21, angle=-90)
ann(690, 960, 'FWHM (s)', 21, angle=-90)
ann(907, 960, 'Decay T<sub>50%</sub> (s)', 21, angle=-90)
ann(828, 707, '*', 22)
ann(1052, 925, '*', 22)
ann(813, 1053, 'CTR +Aβ', 21)
ann(1030, 1053, 'CTR +Aβ', 21)
ann(240, 1437, 'Ca<sup>2+</sup> (dF/F<sub>0</sub>*s)', 21, angle=-90)
for lab, x in [('CTR', 335), ('0Ca', 380), ('TG', 423), ('PPADS', 505), ('MRS', 563), ('CTR', 652),
               ('2-APB', 708), ('CTR', 845), ('CBX', 942), ('CTR', 1020)]:
    ann(x, 1578, lab, 21)
ann(505, 1603, 'suramin', 21)
ann(465, 1503, 'MPEP', 21, angle=-90, color='#222222')
ann(754, 1491, 'TNP-ATP', 21, angle=-90, color='#222222')
ann(894, 1487, 'A740003', 21, angle=-90, color='#222222')
ann(1069, 1479, 'Probenecid', 21, angle=-90, color='#222222')

fig.update_layout(width=W, height=H, margin=dict(l=0, r=0, t=0, b=0, pad=0), paper_bgcolor='white',
                  plot_bgcolor='rgba(0,0,0,0)', showlegend=False, shapes=SHAPES, annotations=ANN,
                  font=dict(family=FONT, color='black'), bargap=0, **AX)
fig.write_html("out.html", config={'displayModeBar': False, 'staticPlot': True},
               post_script="document.body.style.margin='0';document.body.style.overflow='hidden';")
